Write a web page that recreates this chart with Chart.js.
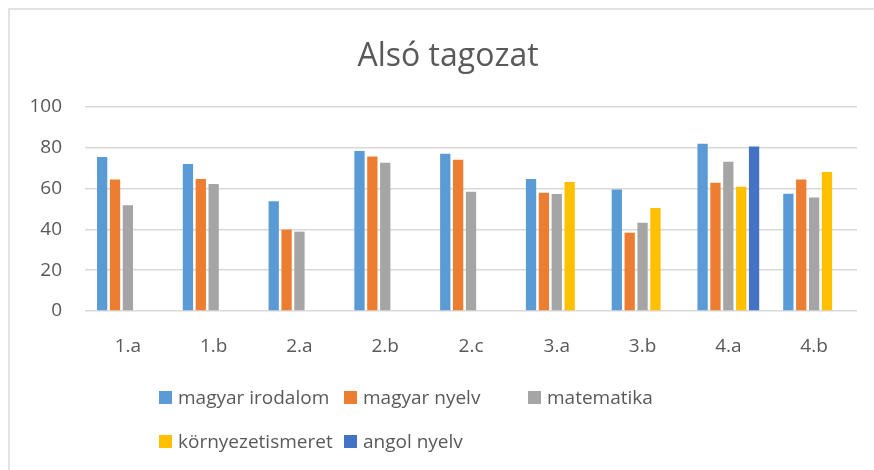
<!DOCTYPE html>
<html>
<head>
<meta charset="utf-8">
<script src="https://cdn.jsdelivr.net/npm/chart.js@4.4.0/dist/chart.umd.min.js"></script>
<style>
    body { margin: 0; background: #fff; font-family: 'Open Sans', sans-serif; }
    #wrap { position: relative; width: 874px; height: 470px; overflow: hidden; }
    #frame { position: absolute; left: 8px; top: 8px; width: 900px; height: 500px; border: 2px solid #e2e2e2; box-sizing: border-box; }
    #chart { position: absolute; left: 0; top: 0; }
    #title { position: absolute; left: 248px; width: 400px; top: 35px; height: 38px; line-height: 38px; text-align: center; font-size: 32px; color: #595959; }
    .leg { position: absolute; display: flex; align-items: center; font-size: 19px; color: #595959; white-space: nowrap; }
    .leg span.box { width: 13px; height: 13px; margin-right: 6px; display: inline-block; }
</style>
</head>
<body>
<div id="wrap">
    <div id="frame"></div>
    <canvas id="chart" width="874" height="470"></canvas>
    <!-- title sits centred on the original (wider) chart frame, not on the canvas -->
    <div id="title">Alsó tagozat</div>
    <div id="legend"></div>
</div>
<script>
const categories = ['1.a', '1.b', '2.a', '2.b', '2.c', '3.a', '3.b', '4.a', '4.b'];
const seriesNames = ['magyar irodalom', 'magyar nyelv', 'matematika', 'környezetismeret', 'angol nyelv'];
const seriesColors = ['#5B9BD5', '#ED7D31', '#A5A5A5', '#FFC000', '#4472C4'];

const magyarIrodalom = [75.5, 72.1, 53.8, 78.4, 77.1, 64.7, 59.6, 82.0, 57.5];
const magyarNyelv = [64.4, 64.7, 39.9, 75.7, 74.2, 58.0, 38.4, 62.9, 64.4];
const matematika = [51.8, 62.3, 38.9, 72.7, 58.5, 57.4, 43.3, 73.2, 55.6];
const kornyezetismeret = [null, null, null, null, null, 63.2, 50.5, 60.9, 68.1];
const angolNyelv = [null, null, null, null, null, null, null, 80.6, null];

const yTicks = [0, 20, 40, 60, 80, 100];

// legend grid positions (Excel style columns)
const legendSlots = [
    { x: 159, y: 397 }, { x: 344, y: 397 }, { x: 528, y: 397 },
    { x: 159, y: 441 }, { x: 344, y: 441 }
];

const allSeries = [magyarIrodalom, magyarNyelv, matematika, kornyezetismeret, angolNyelv];

const ctx = document.getElementById('chart').getContext('2d');
const chart = new Chart(ctx, {
    type: 'bar',
    data: {
        labels: categories,
        datasets: allSeries.map((vals, i) => ({
            label: seriesNames[i],
            data: vals,
            backgroundColor: seriesColors[i],
            borderWidth: 0,
            categoryPercentage: 0.75,
            barPercentage: 0.8
        }))
    },
    options: {
        responsive: false,
        animation: false,
        layout: { padding: { left: 0, right: 17, top: 107, bottom: 0 } },
        plugins: {
            legend: { display: false },
            tooltip: { enabled: false },
            title: { display: false }
        },
        scales: {
            x: {
                grid: { display: false },
                border: { display: false },
                ticks: { color: '#595959', font: { family: 'Open Sans', size: 19 }, padding: 16 },
                afterFit: (scale) => { scale.height = 159; }
            },
            y: {
                min: 0,
                max: 100,
                afterBuildTicks: (scale) => { scale.ticks = yTicks.map(v => ({ value: v })); },
                grid: { color: '#d9d9d9', lineWidth: 1.5, drawTicks: false },
                border: { display: false },
                ticks: { color: '#595959', font: { family: 'Open Sans', size: 19 }, padding: 23 },
                afterFit: (scale) => { scale.width = 85; }
            }
        }
    }
});

// HTML legend built from the chart datasets
const legendEl = document.getElementById('legend');
chart.data.datasets.forEach((ds, i) => {
    const item = document.createElement('div');
    item.className = 'leg';
    item.style.left = legendSlots[i].x + 'px';
    item.style.top = (legendSlots[i].y - 14) + 'px';
    item.style.height = '28px';
    item.innerHTML = `<span class="box" style="background:${ds.backgroundColor}"></span>${ds.label}`;
    legendEl.appendChild(item);
});
</script>
</body>
</html>
